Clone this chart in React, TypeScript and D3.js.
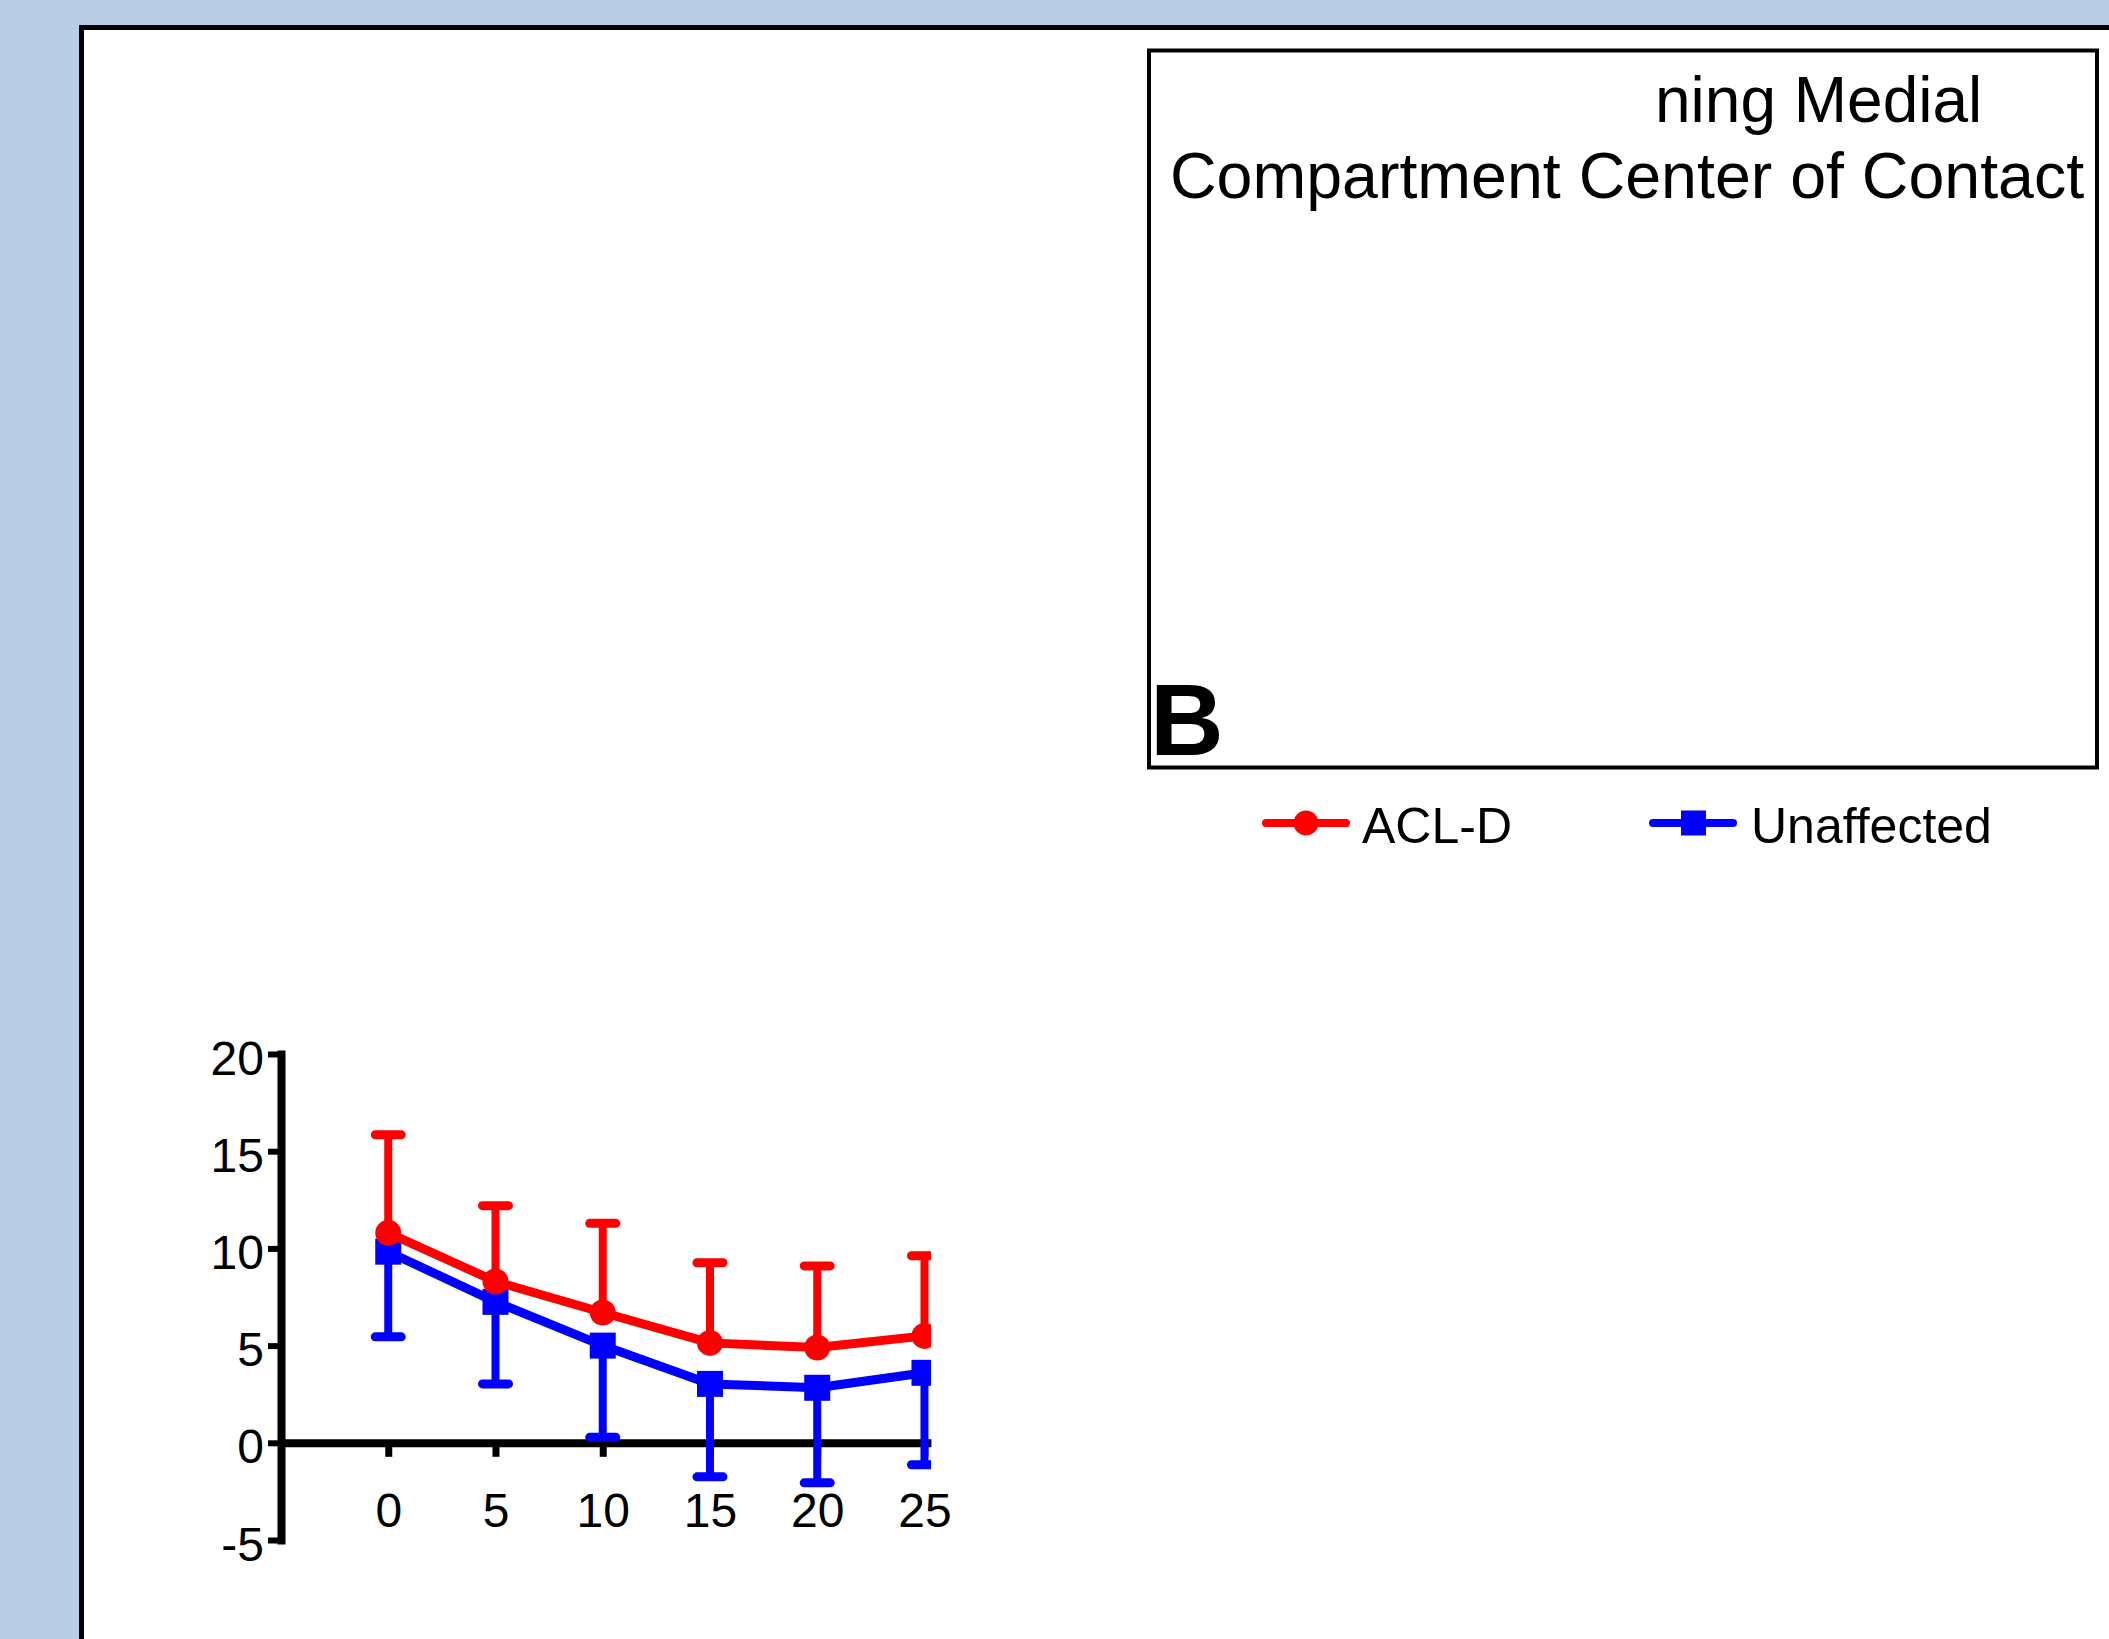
import React, { useEffect, useRef } from "react";
import * as d3 from "d3";

// time points and series values
const timePoints = [0, 5, 10, 15, 20, 25];
const aclMean = [10.8, 8.3, 6.7, 5.14, 4.9, 5.5];
const aclUpper = [15.84, 12.2, 11.29, 9.26, 9.1, 9.62];
const unaffMean = [9.83, 7.25, 5.0, 3.03, 2.83, 3.6];
const unaffLower = [5.45, 3.03, 0.28, -1.75, -2.06, -1.13];
const yTicks = [20, 15, 10, 5, 0, -5];
const titleLines = ["ning Medial", "Compartment Center of Contact"];
const legendLabels = ["ACL-D", "Unaffected"];

const FONT = "'Liberation Sans', Arial, Helvetica, sans-serif";
const RED = "#ff0000";
const BLUE = "#0000ff";

export default function App() {
  const ref = useRef<SVGSVGElement | null>(null);

  useEffect(() => {
    const svg = d3.select(ref.current);
    svg.selectAll("*").remove();

    // page background + white panel
    svg.append("rect").attr("width", 2109).attr("height", 1639).attr("fill", "#b9cde5");
    svg.append("rect")
      .attr("x", 81.5).attr("y", 27.5)
      .attr("width", 2200).attr("height", 1800)
      .attr("fill", "#fff").attr("stroke", "#000").attr("stroke-width", 5);

    // inner box with the title
    svg.append("rect")
      .attr("x", 1149).attr("y", 50.5)
      .attr("width", 948).attr("height", 717)
      .attr("fill", "none").attr("stroke", "#000").attr("stroke-width", 4);

    svg.append("text")
      .attr("x", 1655).attr("y", 122)
      .style("font-family", FONT).style("font-size", "64px")
      .text(titleLines[0]);
    svg.append("text")
      .attr("x", 1170).attr("y", 198)
      .style("font-family", FONT).style("font-size", "64.5px")
      .text(titleLines[1]);
    svg.append("text")
      .attr("x", 1150).attr("y", 755)
      .style("font-family", FONT).style("font-size", "102px").style("font-weight", "bold")
      .text("B");

    // legend
    const leg = [
      { x: 1266, color: RED, shape: "circle", label: legendLabels[0] },
      { x: 1653, color: BLUE, shape: "square", label: legendLabels[1] },
    ];
    leg.forEach((l) => {
      const g = svg.append("g").attr("transform", "translate(" + l.x + ",823)");
      g.append("line").attr("x1", 0).attr("x2", 80)
        .attr("stroke", l.color).attr("stroke-width", 8).attr("stroke-linecap", "round");
      if (l.shape === "circle") {
        g.append("circle").attr("cx", 40).attr("r", 12.5).attr("fill", l.color);
      } else {
        g.append("rect").attr("x", 28).attr("y", -12.5).attr("width", 25).attr("height", 25).attr("fill", l.color);
      }
      g.append("text")
        .attr("x", l.shape === "circle" ? 96 : 98).attr("y", 20)
        .style("font-family", FONT).style("font-size", "50px")
        .text(l.label);
    });

    // scales
    const x = d3.scaleLinear().domain([-5, 25.3]).range([281, 930.9]);
    const y = d3.scaleLinear().domain([-5, 20]).range([1540, 1054]);

    // y axis
    const yAxis = svg.append("g")
      .attr("transform", "translate(" + x(-5) + ",0)")
      .call(d3.axisLeft(y).tickValues(yTicks).tickFormat((d) => String(d))
        .tickSize(13).tickSizeOuter(0).tickPadding(4));
    yAxis.select(".domain").attr("stroke-width", 8).attr("stroke-linecap", "square");
    yAxis.selectAll(".tick line").attr("stroke-width", 6);
    yAxis.selectAll(".tick text")
      .attr("dy", "0.42em")
      .style("font-family", FONT).style("font-size", "48px").attr("fill", "#000");

    // x axis at y = 0
    const xAxis = svg.append("g")
      .attr("transform", "translate(0," + y(0) + ")")
      .call(d3.axisBottom(x).tickValues(timePoints).tickFormat((d) => String(d))
        .tickSize(14).tickSizeOuter(0).tickPadding(36));
    xAxis.select(".domain").attr("stroke-width", 8);
    xAxis.selectAll(".tick line").attr("stroke-width", 7);
    xAxis.selectAll(".tick text")
      .style("font-family", FONT).style("font-size", "48px").attr("fill", "#000");

    // clip data at right end of the axis
    svg.append("clipPath").attr("id", "plotclip")
      .append("rect").attr("x", 0).attr("y", 0).attr("width", x(25.3)).attr("height", 1639);

    const plot = svg.append("g").attr("clip-path", "url(#plotclip)");

    const line = d3.line<number>()
      .x((d, i) => x(timePoints[i]))
      .y((d) => y(d));

    const drawSeries = (mean: number[], err: number[], color: string, shape: string) => {
      const g = plot.append("g");
      // error bars (one-sided, as in the figure)
      mean.forEach((m, i) => {
        g.append("line")
          .attr("x1", x(timePoints[i])).attr("x2", x(timePoints[i]))
          .attr("y1", y(m)).attr("y2", y(err[i]))
          .attr("stroke", color).attr("stroke-width", 8);
        g.append("line")
          .attr("x1", x(timePoints[i]) - 13).attr("x2", x(timePoints[i]) + 13)
          .attr("y1", y(err[i])).attr("y2", y(err[i]))
          .attr("stroke", color).attr("stroke-width", 9).attr("stroke-linecap", "round");
      });
      g.append("path")
        .datum(mean)
        .attr("d", line)
        .attr("fill", "none").attr("stroke", color).attr("stroke-width", 9)
        .attr("stroke-linejoin", "round");
      if (shape === "circle") {
        g.selectAll("circle").data(mean).enter().append("circle")
          .attr("cx", (d, i) => x(timePoints[i]))
          .attr("cy", (d) => y(d))
          .attr("r", 13)
          .attr("fill", color);
      } else {
        g.selectAll("rect").data(mean).enter().append("rect")
          .attr("x", (d, i) => x(timePoints[i]) - 13)
          .attr("y", (d) => y(d) - 13)
          .attr("width", 26).attr("height", 26)
          .attr("fill", color);
      }
    };

    drawSeries(unaffMean, unaffLower, BLUE, "square");
    drawSeries(aclMean, aclUpper, RED, "circle");
  }, []);

  return (
    <svg
      ref={ref}
      width={2109}
      height={1639}
      style={{ position: "absolute", left: 0, top: 0, display: "block" }}
    />
  );
}
